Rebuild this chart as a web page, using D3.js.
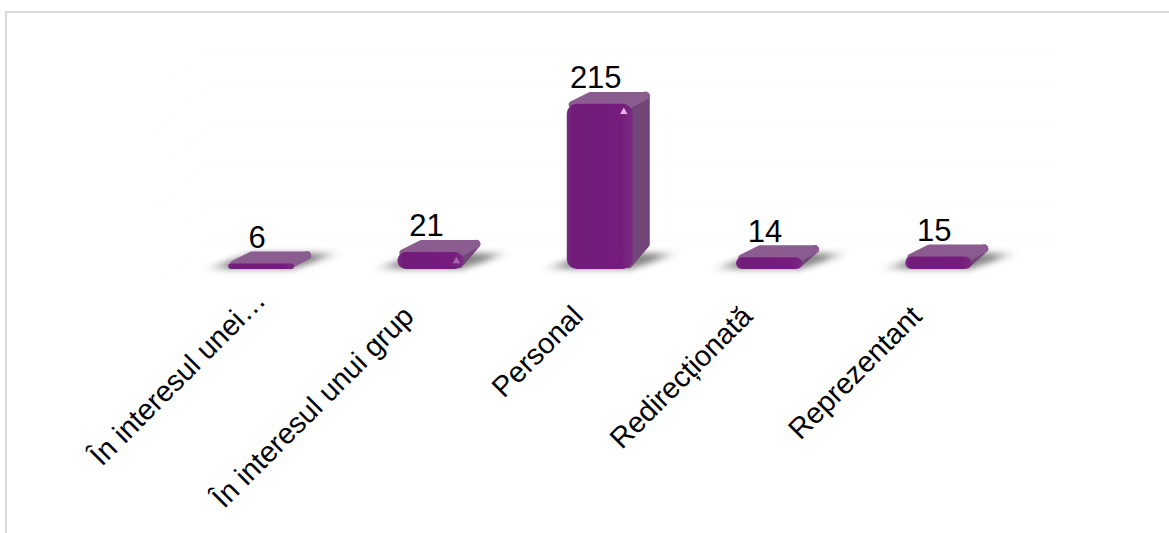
<!DOCTYPE html>
<html>
<head>
<meta charset="utf-8">
<script src="https://cdnjs.cloudflare.com/ajax/libs/d3/7.8.5/d3.min.js"></script>
<style>
	html, body { margin: 0; padding: 0; background: #fff; }
	text { font-family: "Liberation Sans", Arial, sans-serif; fill: #000; }
</style>
</head>
<body>
<div id="canvas"></div>
<script>
var categories = ["În interesul unei…", "În interesul unui grup", "Personal", "Redirecționată", "Reprezentant"];
var values = [6, 21, 215, 14, 15];
var gridValues = [0, 50, 100, 150, 200, 250];

var width = 1169, height = 533;
var baseY = 268;
var depthY = 14;
var wallY = 28; // floor offset of the back wall

var svg = d3.select("#canvas").append("svg")
	.attr("width", width)
	.attr("height", height)
	.style("display", "block");

var defs = svg.append("defs");

var shadowGrad = defs.append("linearGradient").attr("id", "shadowGrad");
shadowGrad.append("stop").attr("offset", "0").attr("stop-color", "#555").attr("stop-opacity", 0);
shadowGrad.append("stop").attr("offset", "0.2").attr("stop-color", "#555").attr("stop-opacity", 0.7);
shadowGrad.append("stop").attr("offset", "0.8").attr("stop-color", "#555").attr("stop-opacity", 0.7);
shadowGrad.append("stop").attr("offset", "1").attr("stop-color", "#555").attr("stop-opacity", 0);

var frontGrad = defs.append("linearGradient").attr("id", "frontGrad");
frontGrad.append("stop").attr("offset", "0").attr("stop-color", "#7c2a84");
frontGrad.append("stop").attr("offset", "0.08").attr("stop-color", "#721d7a");
frontGrad.append("stop").attr("offset", "0.85").attr("stop-color", "#741f7c");
frontGrad.append("stop").attr("offset", "1").attr("stop-color", "#7a2a82");

defs.append("filter").attr("id", "blurShadow")
	.attr("x", "-30%").attr("y", "-60%").attr("width", "160%").attr("height", "220%")
	.append("feGaussianBlur").attr("stdDeviation", 3);
defs.append("filter").attr("id", "soft")
	.attr("x", "-20%").attr("y", "-40%").attr("width", "140%").attr("height", "180%")
	.append("feGaussianBlur").attr("stdDeviation", 0.7);

// outer border, open at right and bottom
svg.append("path")
	.attr("d", d3.line()([[6, height], [6, 12], [width, 12]]))
	.attr("fill", "none")
	.attr("stroke", "#d9d9d9")
	.attr("stroke-width", 2);

var x = d3.scaleBand()
	.domain(categories)
	.range([176.5, 1023])
	.paddingInner(0.61)
	.paddingOuter(0.305);

var y = d3.scaleLinear()
	.domain([0, 250])
	.range([baseY, baseY - 191]);

// faint back wall grid
var grid = svg.append("g").attr("fill", "none").attr("stroke", "#fbfbfb").attr("stroke-width", 1);
grid.selectAll("path.back").data(gridValues).enter().append("path")
	.attr("class", "back")
	.attr("d", function(d){
		var gy = y(d) - wallY;
		return d3.line()([[210, gy], [1058, gy]]);
	});
grid.selectAll("path.side").data(gridValues).enter().append("path")
	.attr("class", "side")
	.attr("stroke-dasharray", "4 3")
	.attr("d", function(d){
		var gy = y(d) - wallY;
		return d3.line()([[156, gy + 44], [210, gy]]);
	});

// value to bar pieces
var bars = svg.selectAll("g.bar").data(categories.map(function(c, i){
	return {c: c, v: values[i]};
})).enter().append("g").attr("class", "bar");

bars.append("polygon")
	.attr("fill", "url(#shadowGrad)")
	.attr("filter", "url(#blurShadow)")
	.attr("points", function(d){
		var x0 = x(d.c), x1 = x0 + x.bandwidth();
		return [[x0 - 26, baseY + 1], [x1 - 2, baseY + 1], [x1 + 48, baseY - depthY - 1], [x0 + 26, baseY - depthY - 1]].join(" ");
	});

// right side
bars.append("polygon")
	.attr("fill", "#6f4678")
	.attr("stroke", "#6f4678")
	.attr("stroke-width", 8)
	.attr("stroke-linejoin", "round")
	.attr("filter", "url(#soft)")
	.attr("points", function(d){
		var x1 = x(d.c) + x.bandwidth(), t = y(d.v);
		return [[x1 - 4, Math.min(t + 4, baseY - 4)], [x1 + 13, t - 8],
			[x1 + 13, Math.max(t - 8, baseY - 24)], [x1 - 4, baseY - 4]].join(" ");
	});

// top
bars.append("polygon")
	.attr("fill", "#8a5b90")
	.attr("stroke", "#8a5b90")
	.attr("stroke-width", 8)
	.attr("stroke-linejoin", "round")
	.attr("filter", "url(#soft)")
	.attr("points", function(d){
		var x0 = x(d.c), x1 = x0 + x.bandwidth(), t = y(d.v);
		return [[x0 + 6, t + 1], [x1 - 4, t + 1], [x1 + 13, t - 8], [x0 + 24, t - 8]].join(" ");
	});

// front
bars.append("rect")
	.attr("fill", "url(#frontGrad)")
	.attr("filter", "url(#soft)")
	.attr("x", function(d){ return x(d.c); })
	.attr("y", function(d){ return y(d.v); })
	.attr("width", x.bandwidth())
	.attr("height", function(d){ return baseY - y(d.v) + 1; })
	.attr("rx", function(d){ return Math.min(10, (baseY - y(d.v) + 1) / 2); });

// glint on the front corner
bars.filter(function(d){ return d.v > 20; }).append("path")
	.attr("fill", function(d){ return d.v > 100 ? "#e8b4ea" : "#a868ae"; })
	.attr("filter", "url(#soft)")
	.attr("d", d3.symbol().type(d3.symbolTriangle).size(24))
	.attr("transform", function(d){
		var gx = x(d.c) + x.bandwidth() - (d.v > 100 ? 9 : 7);
		var gy = y(d.v) + (d.v > 100 ? 8 : (baseY - y(d.v)) / 2 + 1);
		return "translate(" + gx + "," + gy + ")";
	});

// value labels
bars.append("text")
	.attr("x", function(d){ return x(d.c) + x.bandwidth() / 2 - 4; })
	.attr("y", function(d){ return y(d.v) - depthY - 1.5; })
	.attr("text-anchor", "middle")
	.attr("font-size", 31)
	.text(function(d){ return d.v; });

// category axis, labels only
var axis = svg.append("g")
	.attr("transform", "translate(0," + (baseY + 50) + ")")
	.call(d3.axisBottom(x).tickSize(0).tickPadding(0));
axis.select(".domain").remove();
axis.selectAll("text")
	.attr("font-size", 29)
	.attr("font-family", null)
	.attr("text-anchor", "end")
	.attr("dy", 0)
	.attr("y", 0)
	.attr("transform", function(d, i){
		return i === 0 ? "translate(6,-16) rotate(-45)" : "translate(-15,0) rotate(-45)";
	});
</script>
</body>
</html>
